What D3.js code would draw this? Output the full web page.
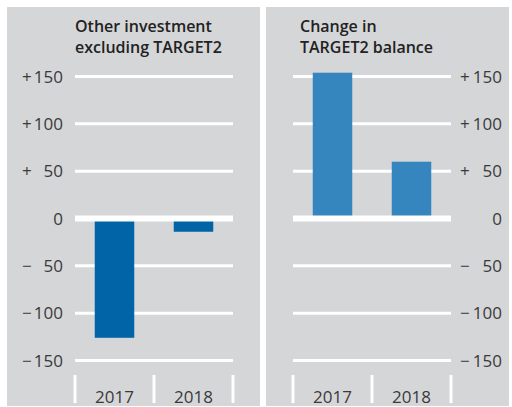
<!DOCTYPE html>
<html>
<head>
<meta charset="utf-8">
<script src="https://cdn.jsdelivr.net/npm/d3@7"></script>
<style>
  body { margin: 0; background: #fff; }
  svg { display: block; font-family: "Open Sans", sans-serif; }
</style>
</head>
<body>
<svg id="chart" width="512" height="407"></svg>
<script>
var years = ["2017", "2018"];
var otherInvestment = [-126, -14];
var target2Change = [154, 60];
var tickValues = [150, 100, 50, 0, -50, -100, -150];

var svg = d3.select("#chart");

var y = d3.scaleLinear()
    .domain([-150, 150])
    .range([360.5, 76.5]);

var panels = [
    { title: ["Other investment", "excluding TARGET2"], values: otherInvestment,
      x0: 7, x1: 260, gx0: 75, gx1: 233, titleX: 75, labelSide: "left", color: "#0064a6" },
    { title: ["Change in", "TARGET2 balance"], values: target2Change,
      x0: 266, x1: 509, gx0: 293, gx1: 451, titleX: 300, labelSide: "right", color: "#3585bf" }
];

function fmtSign(v) {
    if (v > 0) return "+";
    if (v < 0) return "\u2212";
    return "";
}

panels.forEach(function(p) {
    var g = svg.append("g");

    g.append("rect")
        .attr("x", p.x0)
        .attr("y", 7)
        .attr("width", p.x1 - p.x0)
        .attr("height", 399)
        .attr("fill", "#d5d6d8");

    var x = d3.scaleBand()
        .domain(years)
        .range([p.gx0, p.gx1])
        .paddingInner(0.5)
        .paddingOuter(0.25);

    // gridlines (zero line drawn later, on top of the bars)
    g.selectAll("line.grid")
        .data(tickValues.filter(function(d) { return d != 0; }))
        .join("line")
        .attr("class", "grid")
        .attr("x1", p.gx0)
        .attr("x2", p.gx1)
        .attr("y1", function(d) { return y(d); })
        .attr("y2", function(d) { return y(d); })
        .attr("stroke", "#fff")
        .attr("stroke-width", 3);

    // bars
    g.selectAll("rect.bar")
        .data(p.values)
        .join("rect")
        .attr("class", "bar")
        .attr("x", function(d, i) { return x(years[i]); })
        .attr("width", x.bandwidth())
        .attr("y", function(d) { return y(Math.max(0, d)); })
        .attr("height", function(d) { return Math.abs(y(d) - y(0)); })
        .attr("fill", p.color);

    g.append("line")
        .attr("x1", p.gx0)
        .attr("x2", p.gx1)
        .attr("y1", y(0))
        .attr("y2", y(0))
        .attr("stroke", "#fff")
        .attr("stroke-width", 6);

    // tick labels: sign and number separately
    var signX = p.labelSide == "left" ? 22 : 460;
    var numX = p.labelSide == "left" ? 63 : 502;
    var labels = g.selectAll("g.tick")
        .data(tickValues)
        .join("g")
        .attr("class", "tick")
        .attr("transform", function(d) { return "translate(0," + (y(d) + 6) + ")"; });
    labels.append("text")
        .attr("x", signX)
        .attr("font-size", 17)
        .attr("fill", "#3a3a3a")
        .text(function(d) { return fmtSign(d); });
    labels.append("text")
        .attr("x", numX)
        .attr("text-anchor", "end")
        .attr("font-size", 17)
        .attr("fill", "#3a3a3a")
        .text(function(d) { return Math.abs(d); });

    // category separators
    var step = x.step();
    var seps = [p.gx0].concat(years.map(function(c) { return x(c) + x.bandwidth() + step * 0.25; }));
    g.selectAll("line.sep")
        .data(seps)
        .join("line")
        .attr("class", "sep")
        .attr("x1", function(d) { return d; })
        .attr("x2", function(d) { return d; })
        .attr("y1", 375)
        .attr("y2", 403)
        .attr("stroke", "#fff")
        .attr("stroke-width", 3);

    g.selectAll("text.year")
        .data(years)
        .join("text")
        .attr("class", "year")
        .attr("x", function(d) { return x(d) + x.bandwidth() / 2; })
        .attr("y", 403)
        .attr("text-anchor", "middle")
        .attr("font-size", 17)
        .attr("fill", "#3a3a3a")
        .text(function(d) { return d; });

    g.selectAll("text.title")
        .data(p.title)
        .join("text")
        .attr("class", "title")
        .attr("x", p.titleX)
        .attr("y", function(d, i) { return 32 + i * 20.5; })
        .attr("font-size", 16)
        .attr("font-weight", 600)
        .attr("fill", "#222")
        .text(function(d) { return d; });
});
</script>
</body>
</html>
